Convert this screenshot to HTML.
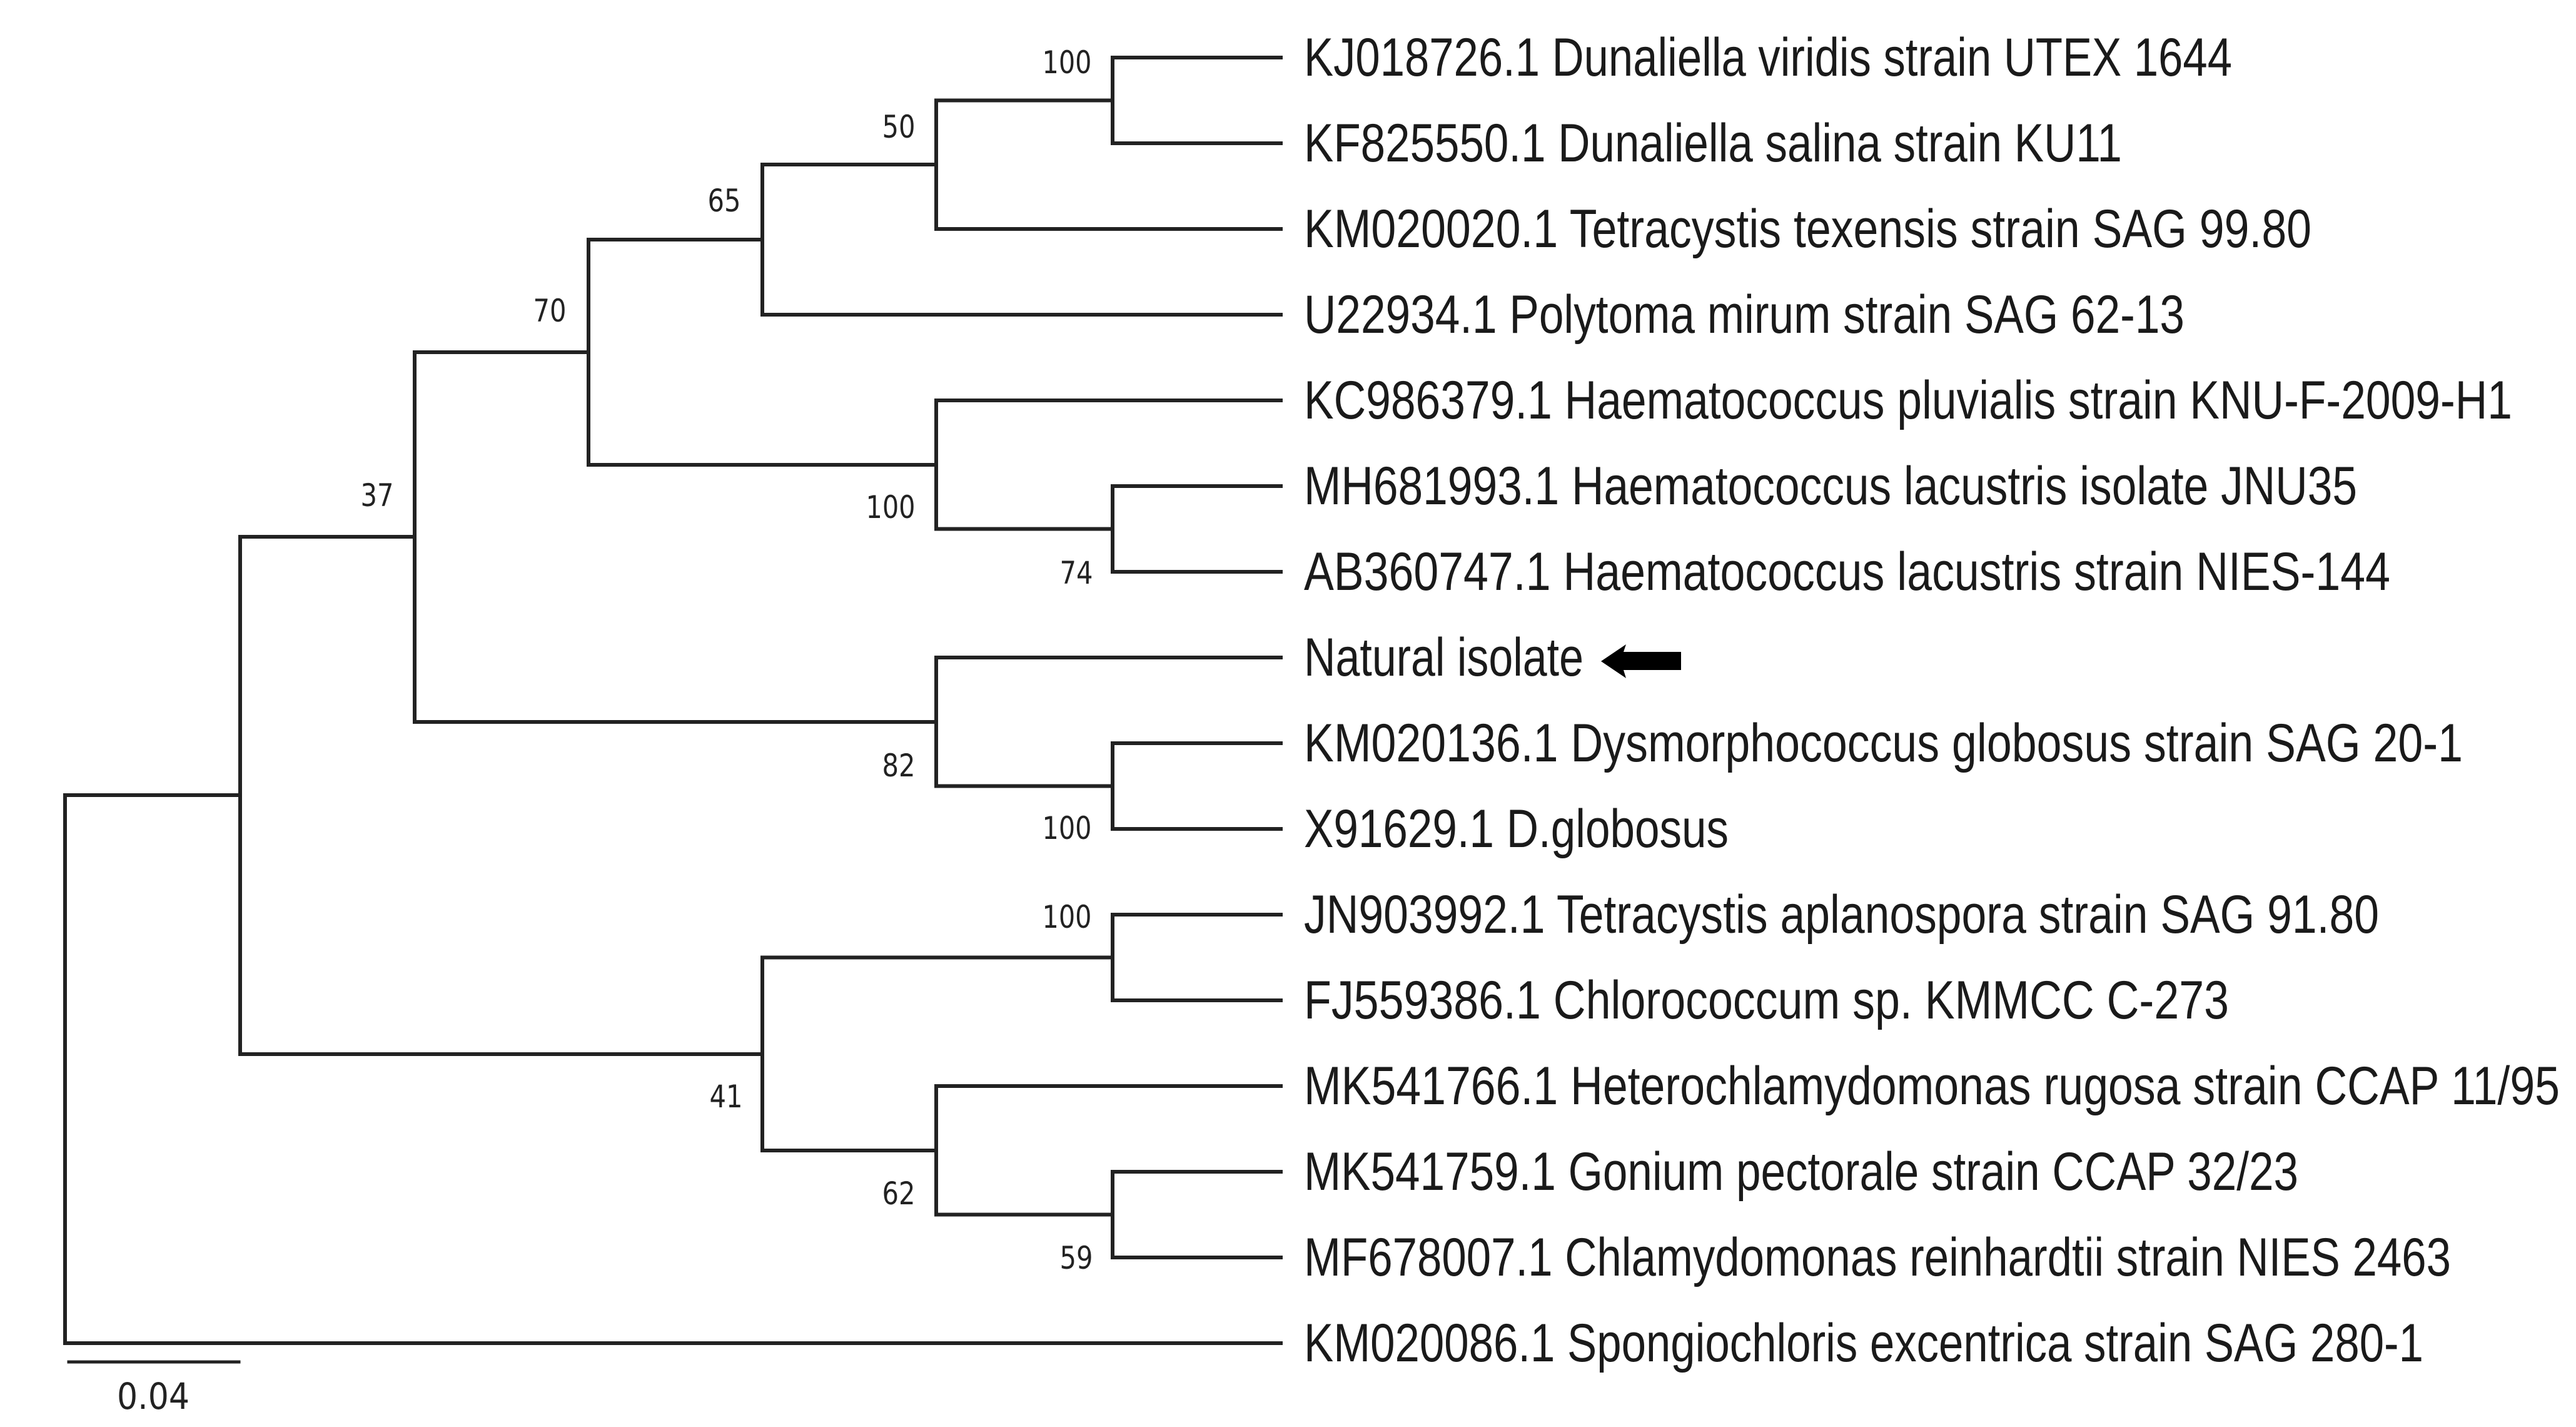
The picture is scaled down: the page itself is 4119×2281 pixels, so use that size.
<!DOCTYPE html>
<html><head><meta charset="utf-8"><style>html,body{margin:0;padding:0;background:#fff}svg{display:block}</style></head>
<body>
<svg width="4119" height="2281" viewBox="0 0 4119 2281" xmlns="http://www.w3.org/2000/svg">
<g stroke="#222" stroke-width="6" fill="none" stroke-linecap="square">
<!-- A -->
<path d="M2048 92H1779V229H2048"/>
<path d="M1779 160.5H1497"/>
<!-- B -->
<path d="M1497 160.5V366H2048"/>
<path d="M1497 263H1219"/>
<!-- C -->
<path d="M1219 263V503H2048"/>
<path d="M1219 383H941"/>
<!-- E -->
<path d="M2048 777H1779V914H2048"/>
<path d="M1779 845.5H1497"/>
<!-- D -->
<path d="M2048 640H1497V845.5"/>
<path d="M1497 743H941"/>
<!-- F -->
<path d="M941 383V743"/>
<path d="M941 563H663"/>
<!-- H -->
<path d="M2048 1188H1779V1325H2048"/>
<path d="M1779 1256.5H1497"/>
<!-- G -->
<path d="M2048 1051H1497V1256.5"/>
<path d="M1497 1154H663"/>
<!-- I -->
<path d="M663 563V1154"/>
<path d="M663 858H384"/>
<!-- J -->
<path d="M2048 1462H1779V1599H2048"/>
<path d="M1779 1530.5H1219"/>
<!-- K -->
<path d="M2048 1873H1779V2010H2048"/>
<path d="M1779 1941.5H1497"/>
<!-- L -->
<path d="M2048 1736H1497V1941.5"/>
<path d="M1497 1839H1219"/>
<!-- M -->
<path d="M1219 1530.5V1839"/>
<path d="M1219 1685H384"/>
<!-- N -->
<path d="M384 858V1685"/>
<path d="M384 1271H104"/>
<!-- root -->
<path d="M104 1271V2147H2048"/>
<!-- scale -->
<path d="M110 2177H382" stroke-width="5"/>
</g>
<g font-family="'Liberation Sans', Arial, sans-serif" font-size="86" fill="#1a1a1a">
<text x="2085" y="121" textLength="1484" lengthAdjust="spacingAndGlyphs">KJ018726.1 Dunaliella viridis strain UTEX 1644</text>
<text x="2085" y="258" textLength="1308" lengthAdjust="spacingAndGlyphs">KF825550.1 Dunaliella salina strain KU11</text>
<text x="2085" y="395" textLength="1611" lengthAdjust="spacingAndGlyphs">KM020020.1 Tetracystis texensis strain SAG 99.80</text>
<text x="2085" y="532" textLength="1408" lengthAdjust="spacingAndGlyphs">U22934.1 Polytoma mirum strain SAG 62-13</text>
<text x="2085" y="669" textLength="1932" lengthAdjust="spacingAndGlyphs">KC986379.1 Haematococcus pluvialis strain KNU-F-2009-H1</text>
<text x="2085" y="806" textLength="1684" lengthAdjust="spacingAndGlyphs">MH681993.1 Haematococcus lacustris isolate JNU35</text>
<text x="2085" y="943" textLength="1737" lengthAdjust="spacingAndGlyphs">AB360747.1 Haematococcus lacustris strain NIES-144</text>
<text x="2085" y="1080" textLength="447" lengthAdjust="spacingAndGlyphs">Natural isolate</text>
<text x="2085" y="1217" textLength="1853" lengthAdjust="spacingAndGlyphs">KM020136.1 Dysmorphococcus globosus strain SAG 20-1</text>
<text x="2085" y="1354" textLength="679" lengthAdjust="spacingAndGlyphs">X91629.1 D.globosus</text>
<text x="2085" y="1491" textLength="1719" lengthAdjust="spacingAndGlyphs">JN903992.1 Tetracystis aplanospora strain SAG 91.80</text>
<text x="2085" y="1628" textLength="1479" lengthAdjust="spacingAndGlyphs">FJ559386.1 Chlorococcum sp. KMMCC C-273</text>
<text x="2085" y="1765" textLength="2008" lengthAdjust="spacingAndGlyphs">MK541766.1 Heterochlamydomonas rugosa strain CCAP 11/95</text>
<text x="2085" y="1902" textLength="1590" lengthAdjust="spacingAndGlyphs">MK541759.1 Gonium pectorale strain CCAP 32/23</text>
<text x="2085" y="2039" textLength="1834" lengthAdjust="spacingAndGlyphs">MF678007.1 Chlamydomonas reinhardtii strain NIES 2463</text>
<text x="2085" y="2176" textLength="1790" lengthAdjust="spacingAndGlyphs">KM020086.1 Spongiochloris excentrica strain SAG 280-1</text>
</g>
<polygon points="2560,1057 2600,1030 2596,1042 2688,1042 2688,1071 2596,1071 2600,1084" fill="#000"/>
<g font-family="'DejaVu Sans', 'Liberation Sans', sans-serif" font-size="50" fill="#222" text-anchor="middle">
<text x="1706" y="117" textLength="79" lengthAdjust="spacingAndGlyphs">100</text>
<text x="1437" y="220" textLength="53" lengthAdjust="spacingAndGlyphs">50</text>
<text x="1158" y="338" textLength="53" lengthAdjust="spacingAndGlyphs">65</text>
<text x="879" y="514" textLength="53" lengthAdjust="spacingAndGlyphs">70</text>
<text x="603" y="809" textLength="53" lengthAdjust="spacingAndGlyphs">37</text>
<text x="1424" y="828" textLength="79" lengthAdjust="spacingAndGlyphs">100</text>
<text x="1721" y="933" textLength="53" lengthAdjust="spacingAndGlyphs">74</text>
<text x="1437" y="1241" textLength="53" lengthAdjust="spacingAndGlyphs">82</text>
<text x="1706" y="1341" textLength="79" lengthAdjust="spacingAndGlyphs">100</text>
<text x="1706" y="1483" textLength="79" lengthAdjust="spacingAndGlyphs">100</text>
<text x="1161" y="1770" textLength="53" lengthAdjust="spacingAndGlyphs">41</text>
<text x="1437" y="1925" textLength="53" lengthAdjust="spacingAndGlyphs">62</text>
<text x="1721" y="2028" textLength="53" lengthAdjust="spacingAndGlyphs">59</text>
<text x="245" y="2252" font-size="58" textLength="116" lengthAdjust="spacingAndGlyphs">0.04</text>
</g>
</svg>
</body></html>
